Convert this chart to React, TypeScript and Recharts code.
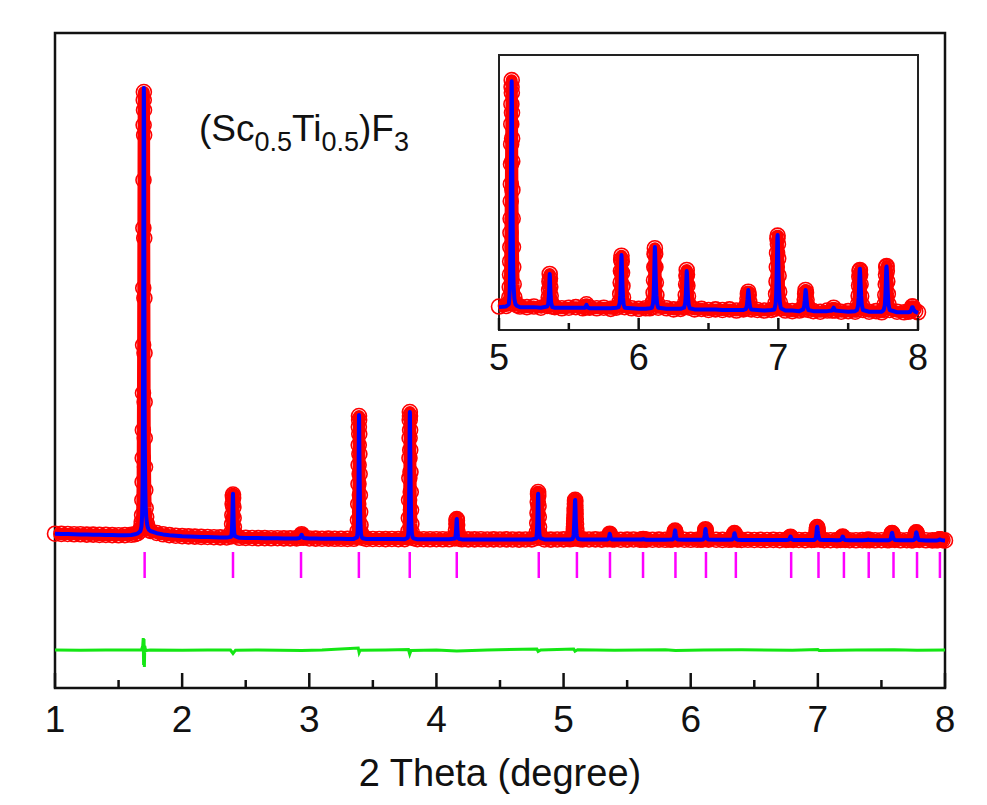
import { ComposedChart, Line, XAxis, YAxis, ReferenceLine, ReferenceArea } from "recharts";

const profile: [number, number, number][] = [
  [1.0, 263, 262], [1.05, 261, 261], [1.1, 260, 259], [1.15, 257, 258], [1.2, 257, 256], [1.25, 254, 255],
  [1.3, 254, 253], [1.35, 251, 252], [1.4, 251, 250], [1.45, 249, 249], [1.5, 247, 248], [1.55, 249, 248],
  [1.6, 252, 251], [1.63, 258, 257], [1.65, 268, 266], [1.67, 290, 288], [1.675, 310, 305], [1.68, 345, 335],
  [1.682, 380, 370], [1.685, 450, 440], [1.687, 600, 580], [1.689, 780, 760], [1.69, 1020, 980], [1.691, 1300, 1250],
  [1.692, 1670, 1650], [1.693, 2150, 2100], [1.694, 2720, 2700], [1.695, 3320, 3300], [1.696, 3800, 3800],
  [1.697, 4350, 4300], [1.698, 4600, 4650], [1.699, 4680, 4720], [1.7, 4500, 4600], [1.701, 4250, 4300],
  [1.702, 3220, 3300], [1.703, 2620, 2650], [1.704, 2070, 2100], [1.705, 1580, 1600], [1.706, 1220, 1250],
  [1.708, 930, 950], [1.71, 700, 720], [1.713, 520, 540], [1.717, 430, 440], [1.723, 360, 370], [1.73, 320, 325],
  [1.74, 300, 300], [1.75, 290, 290],
  [1.8, 270, 268], [1.85, 257, 256], [1.9, 249, 248], [1.95, 243, 243], [2.0, 239, 238], [2.05, 236, 235],
  [2.1, 234, 233], [2.15, 231, 231], [2.2, 230, 229], [2.25, 228, 228], [2.3, 226, 226], [2.35, 225, 224],
  [2.385, 235, 232], [2.39, 280, 275], [2.393, 360, 350], [2.395, 450, 440], [2.397, 560, 550], [2.399, 640, 650],
  [2.4, 655, 663], [2.401, 620, 630], [2.403, 530, 520], [2.405, 420, 410], [2.407, 330, 330], [2.41, 270, 268],
  [2.415, 240, 238],
  [2.45, 222, 222], [2.5, 221, 221], [2.55, 220, 220], [2.6, 219, 219], [2.65, 219, 218], [2.7, 217, 218],
  [2.75, 218, 217], [2.8, 216, 216], [2.85, 216, 216], [2.9, 216, 215],
  [2.925, 222, 220], [2.935, 245, 240], [2.94, 258, 252], [2.945, 245, 240], [2.955, 222, 220],
  [3.0, 215, 214], [3.05, 214, 214], [3.1, 213, 213], [3.15, 214, 213], [3.2, 212, 212], [3.25, 212, 212],
  [3.3, 211, 211], [3.35, 212, 211],
  [3.375, 230, 226], [3.38, 290, 280], [3.383, 400, 380], [3.385, 560, 540], [3.387, 760, 740], [3.388, 950, 930],
  [3.389, 1150, 1150], [3.39, 1330, 1350], [3.391, 1440, 1450], [3.392, 1400, 1420], [3.393, 1260, 1280],
  [3.394, 1060, 1080], [3.396, 860, 850], [3.398, 650, 640], [3.4, 480, 470], [3.403, 350, 340], [3.407, 270, 262],
  [3.412, 235, 230], [3.42, 220, 218],
  [3.45, 211, 210], [3.5, 210, 210], [3.55, 210, 210], [3.6, 209, 209], [3.65, 210, 209], [3.7, 209, 209],
  [3.75, 209, 208],
  [3.775, 228, 224], [3.78, 290, 280], [3.783, 420, 400], [3.785, 600, 580], [3.787, 820, 800], [3.788, 1020, 1000],
  [3.789, 1220, 1220], [3.79, 1400, 1400], [3.791, 1480, 1480], [3.792, 1440, 1450], [3.793, 1300, 1320],
  [3.794, 1100, 1120], [3.796, 880, 880], [3.798, 680, 660], [3.8, 500, 490], [3.803, 360, 350], [3.807, 275, 268],
  [3.812, 235, 230], [3.82, 218, 216],
  [3.85, 208, 208], [3.9, 208, 208], [3.95, 207, 208], [4.0, 208, 207], [4.05, 207, 207], [4.1, 207, 207],
  [4.145, 215, 214], [4.15, 240, 235], [4.154, 300, 290], [4.157, 360, 360], [4.159, 400, 405], [4.16, 410, 410],
  [4.161, 395, 400], [4.163, 350, 345], [4.166, 285, 280], [4.17, 235, 232], [4.175, 215, 213],
  [4.2, 207, 206], [4.25, 206, 206], [4.3, 206, 206], [4.35, 207, 206], [4.4, 205, 206], [4.45, 206, 205],
  [4.5, 205, 205], [4.55, 206, 205], [4.6, 205, 205], [4.65, 204, 205], [4.7, 205, 205], [4.75, 206, 205],
  [4.785, 220, 216], [4.79, 280, 270], [4.793, 370, 360], [4.795, 470, 460], [4.797, 580, 570], [4.799, 660, 650],
  [4.8, 680, 663], [4.801, 640, 640], [4.803, 540, 530], [4.805, 430, 420], [4.807, 330, 330], [4.81, 265, 262],
  [4.815, 225, 222],
  [4.85, 205, 205], [4.9, 204, 205], [4.95, 205, 205], [5.0, 206, 205], [5.05, 207, 206],
  [5.07, 212, 210], [5.074, 222, 220], [5.077, 240, 236], [5.079, 262, 258], [5.08, 285, 280], [5.081, 310, 305],
  [5.082, 335, 330], [5.083, 360, 358], [5.084, 390, 388], [5.085, 420, 420], [5.086, 455, 455], [5.087, 490, 490],
  [5.088, 525, 530], [5.089, 560, 565], [5.09, 590, 595], [5.091, 602, 600], [5.092, 580, 585], [5.093, 545, 550],
  [5.094, 500, 505], [5.095, 460, 455], [5.096, 410, 405], [5.098, 360, 350], [5.1, 310, 300], [5.102, 275, 268],
  [5.105, 245, 240], [5.11, 222, 220], [5.118, 212, 210], [5.13, 208, 207],
  [5.15, 206, 205], [5.2, 205, 205], [5.25, 206, 205], [5.3, 204, 204],
  [5.345, 207, 206], [5.352, 212, 210], [5.356, 222, 220], [5.359, 235, 234], [5.361, 250, 250], [5.363, 263, 263],
  [5.365, 255, 256], [5.367, 240, 240], [5.37, 225, 224], [5.374, 213, 212], [5.382, 206, 205],
  [5.4, 205, 204], [5.45, 203, 204], [5.5, 204, 204], [5.55, 205, 204], [5.6, 203, 204],
  [5.615, 205, 204], [5.626, 210, 209], [5.637, 205, 204],
  [5.65, 204, 203], [5.7, 203, 203], [5.75, 204, 203], [5.8, 202, 203], [5.84, 204, 204],
  [5.856, 206, 205], [5.864, 214, 212], [5.868, 228, 226], [5.871, 248, 245], [5.873, 268, 265], [5.875, 288, 285],
  [5.877, 295, 296], [5.879, 285, 287], [5.881, 265, 268], [5.884, 242, 244], [5.888, 222, 222], [5.893, 210, 209],
  [5.9, 205, 204],
  [5.95, 203, 203], [6.0, 202, 202], [6.05, 203, 202], [6.08, 203, 203],
  [6.095, 205, 204], [6.103, 214, 212], [6.107, 230, 227], [6.11, 252, 250], [6.112, 275, 272], [6.114, 298, 295],
  [6.116, 308, 310], [6.118, 298, 300], [6.12, 275, 277], [6.123, 248, 250], [6.127, 226, 226], [6.132, 212, 211],
  [6.14, 204, 204],
  [6.2, 203, 202], [6.25, 201, 202], [6.3, 202, 202],
  [6.325, 205, 204], [6.333, 213, 212], [6.337, 226, 224], [6.34, 245, 243], [6.342, 260, 258], [6.344, 270, 268],
  [6.346, 262, 263], [6.349, 243, 245], [6.353, 224, 224], [6.358, 210, 210], [6.366, 204, 203],
  [6.4, 201, 201], [6.45, 202, 201], [6.5, 200, 201], [6.55, 201, 201], [6.6, 200, 200], [6.65, 201, 200],
  [6.7, 199, 200], [6.75, 201, 200],
  [6.768, 203, 202], [6.775, 210, 208], [6.779, 220, 218], [6.782, 228, 228], [6.785, 232, 235], [6.788, 226, 228],
  [6.792, 214, 215], [6.798, 205, 205], [6.806, 201, 201],
  [6.85, 200, 200], [6.9, 199, 199], [6.95, 200, 200],
  [6.972, 202, 201], [6.98, 212, 210], [6.984, 228, 225], [6.987, 250, 248], [6.989, 275, 272], [6.991, 300, 298],
  [6.993, 325, 326], [6.995, 330, 331], [6.997, 315, 318], [6.999, 290, 292], [7.002, 260, 262], [7.006, 232, 233],
  [7.011, 213, 213], [7.018, 203, 203],
  [7.05, 199, 199], [7.1, 198, 199], [7.15, 199, 198],
  [7.178, 201, 201], [7.185, 208, 207], [7.189, 218, 217], [7.192, 228, 227], [7.195, 235, 235], [7.198, 230, 231],
  [7.202, 218, 219], [7.207, 207, 207], [7.215, 200, 200],
  [7.25, 198, 198], [7.3, 197, 198], [7.35, 199, 198],
  [7.385, 199, 199], [7.396, 204, 204], [7.407, 199, 199],
  [7.45, 197, 198], [7.5, 198, 197], [7.55, 197, 198],
  [7.563, 201, 200], [7.571, 210, 208], [7.575, 225, 222], [7.578, 243, 240], [7.58, 258, 256], [7.582, 268, 268],
  [7.584, 270, 272], [7.586, 262, 264], [7.589, 245, 246], [7.593, 224, 225], [7.598, 209, 209], [7.606, 200, 200],
  [7.65, 197, 197], [7.7, 198, 197], [7.74, 196, 197],
  [7.754, 200, 200], [7.762, 210, 208], [7.766, 226, 223], [7.769, 245, 242], [7.771, 262, 260], [7.773, 275, 274],
  [7.775, 277, 276], [7.777, 268, 270], [7.78, 250, 252], [7.784, 228, 229], [7.789, 210, 210], [7.797, 200, 200],
  [7.85, 197, 196], [7.9, 196, 196], [7.93, 197, 196],
  [7.945, 198, 197], [7.952, 202, 201], [7.958, 206, 205], [7.962, 206, 205], [7.968, 202, 201], [7.98, 198, 197],
  [8.0, 196, 195],
];

// difference curve, drawn offset below the pattern
const difference: [number, number][] = [
  [1.0, -900], [1.2, -902], [1.4, -899], [1.6, -901], [1.68, -900], [1.69, -860], [1.694, -780], [1.697, -1050],
  [1.7, -790], [1.703, -1070], [1.706, -860], [1.712, -905], [1.75, -900], [2.0, -902], [2.2, -899], [2.38, -901],
  [2.4, -935], [2.42, -902], [2.6, -900], [2.94, -905], [3.1, -899], [3.385, -880], [3.392, -925], [3.4, -902],
  [3.6, -900], [3.78, -895], [3.79, -940], [3.8, -905], [4.0, -899], [4.16, -910], [4.4, -900], [4.79, -890],
  [4.8, -915], [4.82, -900], [5.08, -890], [5.09, -912], [5.11, -898], [5.4, -902], [5.8, -897], [5.88, -906],
  [6.1, -900], [6.4, -898], [6.8, -902], [7.0, -895], [7.01, -905], [7.3, -900], [7.6, -897], [7.78, -903],
  [8.0, -899],
];

const braggPositions = [
  1.705, 2.4, 2.935, 3.39, 3.79, 4.16, 4.805, 5.105, 5.365, 5.625, 5.88, 6.12, 6.355, 6.79, 7.005, 7.205, 7.4,
  7.595, 7.78, 7.96,
];

const mainTicks = [1, 1.5, 2, 2.5, 3, 3.5, 4, 4.5, 5, 5.5, 6, 6.5, 7, 7.5, 8];
const insetTicks = [5, 5.5, 6, 6.5, 7, 7.5, 8];

const rows = profile.map(([x, obs, calc]) => ({ x, obs, calc }));
const insetRows = rows.filter((r) => r.x >= 5);
const diffRows = difference.map(([x, y]) => ({ x, y }));

const INK = "#111";

function makeTick(major: number, minor: number, labelDy: number, fontSize: number) {
  return (props: any) => {
    const { x, y, payload } = props;
    const v = payload.value as number;
    const isMajor = Number.isInteger(v);
    return (
      <g>
        <line x1={x} x2={x} y1={y} y2={y - (isMajor ? major : minor)} stroke={INK} strokeWidth={2.5} />
        {isMajor && (
          <text x={x} y={y + labelDy} textAnchor="middle" fontSize={fontSize} fill={INK}>
            {v}
          </text>
        )}
      </g>
    );
  };
}

const mainTick = makeTick(15, 8, 44, 37);
const insetTick = makeTick(12, 7, 40, 36);

// open red circle for each observed point
const obsDot = (p: any) => (
  <circle key={`o-${p.index}`} cx={p.cx} cy={p.cy} r={7.5} fill="none" stroke="#ff0000" strokeWidth={1.6} />
);

export default function App() {
  return (
    <div
      style={{
        position: "absolute",
        left: 0,
        top: 0,
        width: 987,
        height: 805,
        background: "#fff",
        fontFamily: "'Liberation Sans', Arial, sans-serif",
      }}
    >
      <ComposedChart width={987} height={805} data={rows} margin={{ top: 33, right: 42, bottom: 0, left: 55 }}>
        <XAxis
          dataKey="x"
          type="number"
          domain={[1, 8]}
          ticks={mainTicks}
          interval={0}
          tick={mainTick}
          tickLine={false}
          axisLine={false}
          tickSize={0}
          tickMargin={0}
          height={117}
          label={{ value: "2 Theta (degree)", position: "insideBottom", offset: 19, fontSize: 38, fill: INK }}
        />
        <YAxis type="number" domain={[-1280, 5270]} hide />
        {braggPositions.map((p) => (
          <ReferenceLine
            key={p}
            segment={[
              { x: p, y: 80 },
              { x: p, y: -180 },
            ]}
            stroke="#ff00ff"
            strokeWidth={2.5}
          />
        ))}
        <Line
          dataKey="obs"
          stroke="#ff0000"
          strokeWidth={12}
          strokeLinejoin="round"
          dot={obsDot}
          activeDot={false}
          isAnimationActive={false}
        />
        <Line
          dataKey="calc"
          stroke="#0000ff"
          strokeWidth={4}
          strokeLinejoin="round"
          dot={false}
          activeDot={false}
          zIndex={700}
          isAnimationActive={false}
        />
        <Line data={diffRows} dataKey="y" stroke="#14e614" strokeWidth={3} dot={false} activeDot={false} isAnimationActive={false} />
        <ReferenceArea x1={1} x2={8} y1={-1280} y2={5270} fill="none" stroke={INK} strokeWidth={2.5} />
      </ComposedChart>

      <div style={{ position: "absolute", left: 440, top: 40 }}>
        <ComposedChart width={520} height={345} data={insetRows} margin={{ top: 15, right: 42, bottom: 0, left: 59 }}>
          <XAxis
            dataKey="x"
            type="number"
            domain={[5, 8]}
            ticks={insetTicks}
            interval={0}
            tick={insetTick}
            tickLine={false}
            axisLine={false}
            tickSize={0}
            tickMargin={0}
            height={55}
          />
          <YAxis type="number" domain={[165, 646]} hide />
          <Line
            dataKey="obs"
            stroke="#ff0000"
            strokeWidth={12}
            strokeLinejoin="round"
            dot={obsDot}
            activeDot={false}
            isAnimationActive={false}
          />
          <Line
            dataKey="calc"
            stroke="#0000ff"
            strokeWidth={4}
            strokeLinejoin="round"
            dot={false}
            activeDot={false}
            zIndex={700}
            isAnimationActive={false}
          />
          <ReferenceArea x1={5} x2={8} y1={165} y2={646} fill="none" stroke="#222" strokeWidth={2} />
        </ComposedChart>
      </div>

      <svg width={987} height={805} style={{ position: "absolute", left: 0, top: 0, pointerEvents: "none" }}>
        <text x={199} y={141} fontSize={37} fill={INK}>
          (Sc
          <tspan fontSize={27} dy={10}>0.5</tspan>
          <tspan dy={-10}>Ti</tspan>
          <tspan fontSize={27} dy={10}>0.5</tspan>
          <tspan dy={-10}>)F</tspan>
          <tspan fontSize={27} dy={10}>3</tspan>
        </text>
      </svg>
    </div>
  );
}
